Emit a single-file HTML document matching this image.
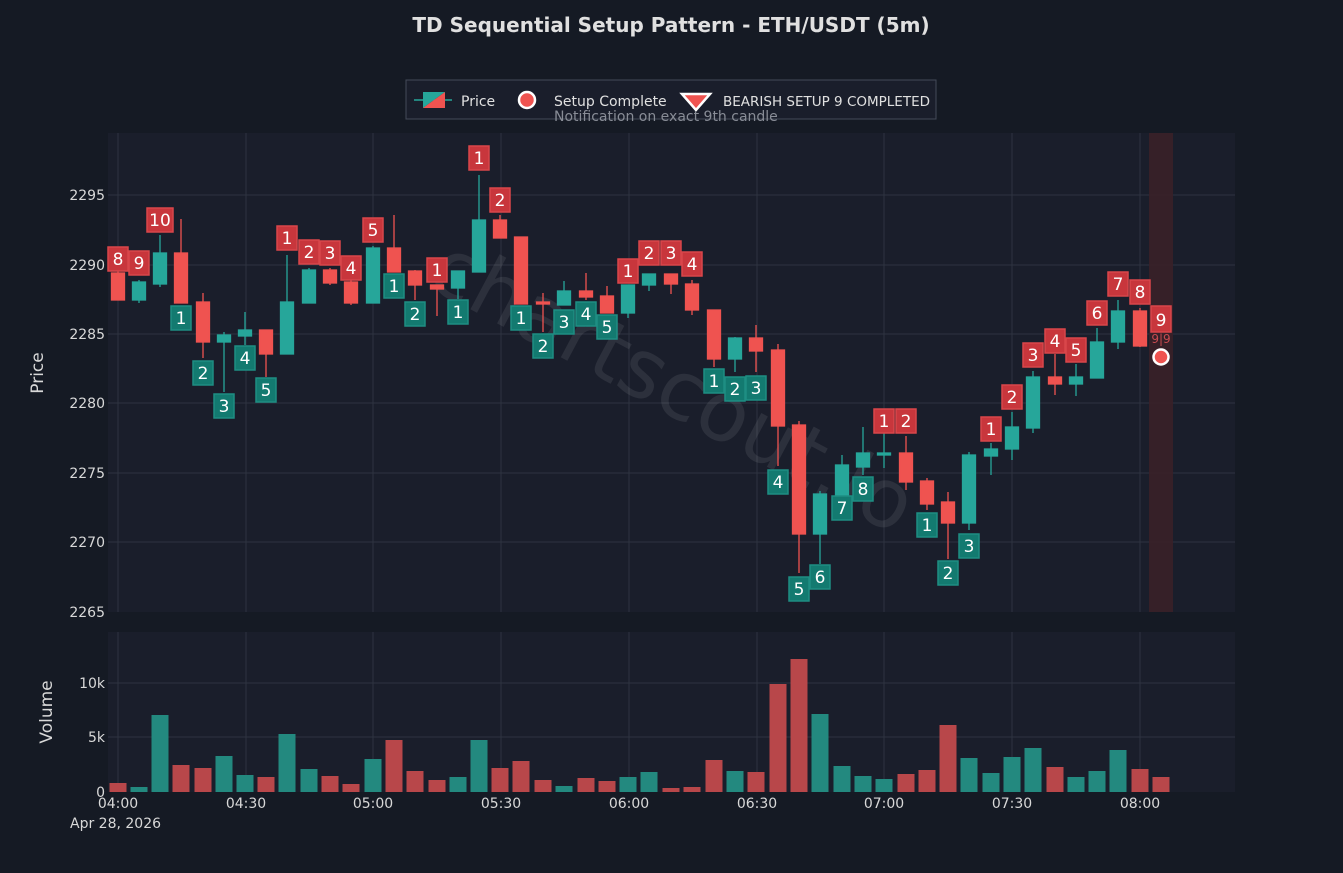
<!DOCTYPE html>
<html><head><meta charset="utf-8"><style>
body{margin:0;background:#151a24;}
svg{display:block;font-family:"DejaVu Sans","Liberation Sans",sans-serif;}
</style></head><body>
<svg width="1343" height="873" viewBox="0 0 1343 873" xmlns="http://www.w3.org/2000/svg">
<rect width="1343" height="873" fill="#151a24"/>
<text x="671" y="32" fill="#e0e0e0" font-size="20" font-weight="bold" text-anchor="middle" font-family="DejaVu Sans, sans-serif">TD Sequential Setup Pattern - ETH/USDT (5m)</text>
<rect x="108" y="133" width="1127" height="479" fill="#1a1e2b"/>
<rect x="108" y="632" width="1127" height="160" fill="#1a1e2b"/>
<g stroke="#2e3340" stroke-width="1">
<line x1="108" x2="1235" y1="195" y2="195"/><line x1="108" x2="1235" y1="265" y2="265"/><line x1="108" x2="1235" y1="334" y2="334"/><line x1="108" x2="1235" y1="403" y2="403"/><line x1="108" x2="1235" y1="473" y2="473"/><line x1="108" x2="1235" y1="542" y2="542"/>
<line x1="108" x2="1235" y1="683" y2="683"/><line x1="108" x2="1235" y1="737" y2="737"/>
<line x1="118" x2="118" y1="133" y2="612"/><line x1="246" x2="246" y1="133" y2="612"/><line x1="373" x2="373" y1="133" y2="612"/><line x1="501" x2="501" y1="133" y2="612"/><line x1="629" x2="629" y1="133" y2="612"/><line x1="757" x2="757" y1="133" y2="612"/><line x1="884" x2="884" y1="133" y2="612"/><line x1="1012" x2="1012" y1="133" y2="612"/><line x1="1140" x2="1140" y1="133" y2="612"/>
<line x1="118" x2="118" y1="632" y2="792"/><line x1="246" x2="246" y1="632" y2="792"/><line x1="373" x2="373" y1="632" y2="792"/><line x1="501" x2="501" y1="632" y2="792"/><line x1="629" x2="629" y1="632" y2="792"/><line x1="757" x2="757" y1="632" y2="792"/><line x1="884" x2="884" y1="632" y2="792"/><line x1="1012" x2="1012" y1="632" y2="792"/><line x1="1140" x2="1140" y1="632" y2="792"/>
</g>
<rect x="1149" y="133" width="24" height="479" fill="#3a2028" opacity="0.9"/>
<text x="0" y="0" transform="translate(660,410) rotate(28)" fill="#ffffff" opacity="0.08" font-size="82" text-anchor="middle" font-family="DejaVu Sans, sans-serif">chartscout.io</text>
<g fill="#d8d8d8" font-size="14" text-anchor="end">
<text x="105" y="200">2295</text><text x="105" y="270">2290</text><text x="105" y="339">2285</text><text x="105" y="408">2280</text><text x="105" y="478">2275</text><text x="105" y="547">2270</text><text x="105" y="617">2265</text>
<text x="105" y="688">10k</text><text x="105" y="742">5k</text><text x="105" y="797">0</text>
</g>
<g fill="#d8d8d8" font-size="14" text-anchor="middle">
<text x="118" y="808">04:00</text><text x="246" y="808">04:30</text><text x="373" y="808">05:00</text><text x="501" y="808">05:30</text><text x="629" y="808">06:00</text><text x="757" y="808">06:30</text><text x="884" y="808">07:00</text><text x="1012" y="808">07:30</text><text x="1140" y="808">08:00</text>
</g>
<text x="70" y="828" fill="#d8d8d8" font-size="14">Apr 28, 2026</text>
<text transform="translate(43,373) rotate(-90)" fill="#d8d8d8" font-size="17" text-anchor="middle">Price</text>
<text transform="translate(52,712) rotate(-90)" fill="#d8d8d8" font-size="17" text-anchor="middle">Volume</text>
<g stroke-width="1.3">
<g stroke="#ef5350" fill="#ef5350"><line x1="118" x2="118" y1="271" y2="300"/><rect x="111.5" y="273" width="13" height="27"/></g>
<g stroke="#26a69a" fill="#26a69a"><line x1="139" x2="139" y1="280" y2="303"/><rect x="132.5" y="282" width="13" height="18"/></g>
<g stroke="#26a69a" fill="#26a69a"><line x1="160" x2="160" y1="235" y2="287"/><rect x="153.5" y="253" width="13" height="31"/></g>
<g stroke="#ef5350" fill="#ef5350"><line x1="181" x2="181" y1="219" y2="303"/><rect x="174.5" y="253" width="13" height="50"/></g>
<g stroke="#ef5350" fill="#ef5350"><line x1="203" x2="203" y1="293" y2="358"/><rect x="196.5" y="302" width="13" height="40"/></g>
<g stroke="#26a69a" fill="#26a69a"><line x1="224" x2="224" y1="332" y2="392"/><rect x="217.5" y="335" width="13" height="7"/></g>
<g stroke="#26a69a" fill="#26a69a"><line x1="245" x2="245" y1="312" y2="345"/><rect x="238.5" y="330" width="13" height="6"/></g>
<g stroke="#ef5350" fill="#ef5350"><line x1="266" x2="266" y1="330" y2="377"/><rect x="259.5" y="330" width="13" height="24"/></g>
<g stroke="#26a69a" fill="#26a69a"><line x1="287" x2="287" y1="255" y2="354"/><rect x="280.5" y="302" width="13" height="52"/></g>
<g stroke="#26a69a" fill="#26a69a"><line x1="309" x2="309" y1="268" y2="303"/><rect x="302.5" y="270" width="13" height="33"/></g>
<g stroke="#ef5350" fill="#ef5350"><line x1="330" x2="330" y1="268" y2="285"/><rect x="323.5" y="270" width="13" height="13"/></g>
<g stroke="#ef5350" fill="#ef5350"><line x1="351" x2="351" y1="280" y2="305"/><rect x="344.5" y="282" width="13" height="21"/></g>
<g stroke="#26a69a" fill="#26a69a"><line x1="373" x2="373" y1="246" y2="303"/><rect x="366.5" y="248" width="13" height="55"/></g>
<g stroke="#ef5350" fill="#ef5350"><line x1="394" x2="394" y1="215" y2="272"/><rect x="387.5" y="248" width="13" height="24"/></g>
<g stroke="#ef5350" fill="#ef5350"><line x1="415" x2="415" y1="270" y2="300"/><rect x="408.5" y="271" width="13" height="14"/></g>
<g stroke="#ef5350" fill="#ef5350"><line x1="437" x2="437" y1="285" y2="316"/><rect x="430.5" y="285" width="13" height="4"/></g>
<g stroke="#26a69a" fill="#26a69a"><line x1="458" x2="458" y1="271" y2="299"/><rect x="451.5" y="271" width="13" height="17"/></g>
<g stroke="#26a69a" fill="#26a69a"><line x1="479" x2="479" y1="175" y2="272"/><rect x="472.5" y="220" width="13" height="52"/></g>
<g stroke="#ef5350" fill="#ef5350"><line x1="500" x2="500" y1="215" y2="238"/><rect x="493.5" y="220" width="13" height="18"/></g>
<g stroke="#ef5350" fill="#ef5350"><line x1="521" x2="521" y1="237" y2="304"/><rect x="514.5" y="237" width="13" height="67"/></g>
<g stroke="#ef5350" fill="#ef5350"><line x1="543" x2="543" y1="293" y2="332"/><rect x="536.5" y="302" width="13" height="2"/></g>
<g stroke="#26a69a" fill="#26a69a"><line x1="564" x2="564" y1="281" y2="305"/><rect x="557.5" y="291" width="13" height="14"/></g>
<g stroke="#ef5350" fill="#ef5350"><line x1="586" x2="586" y1="273" y2="300"/><rect x="579.5" y="291" width="13" height="6"/></g>
<g stroke="#ef5350" fill="#ef5350"><line x1="607" x2="607" y1="286" y2="313"/><rect x="600.5" y="296" width="13" height="17"/></g>
<g stroke="#26a69a" fill="#26a69a"><line x1="628" x2="628" y1="285" y2="318"/><rect x="621.5" y="285" width="13" height="28"/></g>
<g stroke="#26a69a" fill="#26a69a"><line x1="649" x2="649" y1="274" y2="291"/><rect x="642.5" y="274" width="13" height="11"/></g>
<g stroke="#ef5350" fill="#ef5350"><line x1="671" x2="671" y1="274" y2="294"/><rect x="664.5" y="274" width="13" height="10"/></g>
<g stroke="#ef5350" fill="#ef5350"><line x1="692" x2="692" y1="280" y2="315"/><rect x="685.5" y="284" width="13" height="26"/></g>
<g stroke="#ef5350" fill="#ef5350"><line x1="714" x2="714" y1="310" y2="367"/><rect x="707.5" y="310" width="13" height="49"/></g>
<g stroke="#26a69a" fill="#26a69a"><line x1="735" x2="735" y1="337" y2="372"/><rect x="728.5" y="338" width="13" height="21"/></g>
<g stroke="#ef5350" fill="#ef5350"><line x1="756" x2="756" y1="325" y2="372"/><rect x="749.5" y="338" width="13" height="13"/></g>
<g stroke="#ef5350" fill="#ef5350"><line x1="778" x2="778" y1="344" y2="466"/><rect x="771.5" y="350" width="13" height="76"/></g>
<g stroke="#ef5350" fill="#ef5350"><line x1="799" x2="799" y1="421" y2="573"/><rect x="792.5" y="425" width="13" height="109"/></g>
<g stroke="#26a69a" fill="#26a69a"><line x1="820" x2="820" y1="491" y2="564"/><rect x="813.5" y="494" width="13" height="40"/></g>
<g stroke="#26a69a" fill="#26a69a"><line x1="842" x2="842" y1="455" y2="496"/><rect x="835.5" y="465" width="13" height="31"/></g>
<g stroke="#26a69a" fill="#26a69a"><line x1="863" x2="863" y1="427" y2="475"/><rect x="856.5" y="453" width="13" height="14"/></g>
<g stroke="#26a69a" fill="#26a69a"><line x1="884" x2="884" y1="427" y2="468"/><rect x="877.5" y="453" width="13" height="2"/></g>
<g stroke="#ef5350" fill="#ef5350"><line x1="906" x2="906" y1="436" y2="490"/><rect x="899.5" y="453" width="13" height="29"/></g>
<g stroke="#ef5350" fill="#ef5350"><line x1="927" x2="927" y1="478" y2="510"/><rect x="920.5" y="481" width="13" height="23"/></g>
<g stroke="#ef5350" fill="#ef5350"><line x1="948" x2="948" y1="492" y2="559"/><rect x="941.5" y="502" width="13" height="21"/></g>
<g stroke="#26a69a" fill="#26a69a"><line x1="969" x2="969" y1="452" y2="530"/><rect x="962.5" y="455" width="13" height="68"/></g>
<g stroke="#26a69a" fill="#26a69a"><line x1="991" x2="991" y1="443" y2="475"/><rect x="984.5" y="449" width="13" height="7"/></g>
<g stroke="#26a69a" fill="#26a69a"><line x1="1012" x2="1012" y1="412" y2="460"/><rect x="1005.5" y="427" width="13" height="22"/></g>
<g stroke="#26a69a" fill="#26a69a"><line x1="1033" x2="1033" y1="371" y2="433"/><rect x="1026.5" y="377" width="13" height="51"/></g>
<g stroke="#ef5350" fill="#ef5350"><line x1="1055" x2="1055" y1="354" y2="395"/><rect x="1048.5" y="377" width="13" height="7"/></g>
<g stroke="#26a69a" fill="#26a69a"><line x1="1076" x2="1076" y1="364" y2="396"/><rect x="1069.5" y="377" width="13" height="7"/></g>
<g stroke="#26a69a" fill="#26a69a"><line x1="1097" x2="1097" y1="328" y2="378"/><rect x="1090.5" y="342" width="13" height="36"/></g>
<g stroke="#26a69a" fill="#26a69a"><line x1="1118" x2="1118" y1="300" y2="349"/><rect x="1111.5" y="311" width="13" height="31"/></g>
<g stroke="#ef5350" fill="#ef5350"><line x1="1140" x2="1140" y1="308" y2="347"/><rect x="1133.5" y="311" width="13" height="35"/></g>
</g>
<g stroke-width="1.5">
<g fill="#c8363c" stroke="#d9464b"><rect x="108" y="247" width="20" height="24"/><rect x="129" y="251" width="20" height="24"/><rect x="147" y="208" width="26" height="24"/><rect x="277" y="226" width="20" height="24"/><rect x="299" y="240" width="20" height="24"/><rect x="320" y="241" width="20" height="24"/><rect x="341" y="256" width="20" height="24"/><rect x="363" y="218" width="20" height="24"/><rect x="427" y="258" width="20" height="24"/><rect x="469" y="146" width="20" height="24"/><rect x="490" y="188" width="20" height="24"/><rect x="618" y="259" width="20" height="24"/><rect x="639" y="241" width="20" height="24"/><rect x="661" y="241" width="20" height="24"/><rect x="682" y="252" width="20" height="24"/><rect x="874" y="409" width="20" height="24"/><rect x="896" y="409" width="20" height="24"/><rect x="981" y="417" width="20" height="24"/><rect x="1002" y="385" width="20" height="24"/><rect x="1023" y="343" width="20" height="24"/><rect x="1045" y="329" width="20" height="24"/><rect x="1066" y="338" width="20" height="24"/><rect x="1087" y="301" width="20" height="24"/><rect x="1108" y="272" width="20" height="24"/><rect x="1130" y="280" width="20" height="24"/><rect x="1151" y="306" width="20" height="26"/></g>
<g fill="#137a70" stroke="#1e8e83"><rect x="171" y="306" width="20" height="24"/><rect x="193" y="361" width="20" height="24"/><rect x="214" y="394" width="20" height="24"/><rect x="235" y="346" width="20" height="24"/><rect x="256" y="378" width="20" height="24"/><rect x="384" y="274" width="20" height="24"/><rect x="405" y="302" width="20" height="24"/><rect x="448" y="300" width="20" height="24"/><rect x="511" y="306" width="20" height="24"/><rect x="533" y="334" width="20" height="24"/><rect x="554" y="310" width="20" height="24"/><rect x="576" y="302" width="20" height="24"/><rect x="597" y="315" width="20" height="24"/><rect x="704" y="369" width="20" height="24"/><rect x="725" y="377" width="20" height="24"/><rect x="746" y="376" width="20" height="24"/><rect x="768" y="470" width="20" height="24"/><rect x="789" y="577" width="20" height="24"/><rect x="810" y="565" width="20" height="24"/><rect x="832" y="496" width="20" height="24"/><rect x="853" y="477" width="20" height="24"/><rect x="917" y="513" width="20" height="24"/><rect x="938" y="561" width="20" height="24"/><rect x="959" y="534" width="20" height="24"/></g>
</g>
<g font-size="17" fill="#ffffff" text-anchor="middle">
<text x="118" y="265">8</text><text x="139" y="269">9</text><text x="160" y="226">10</text><text x="287" y="244">1</text><text x="309" y="258">2</text><text x="330" y="259">3</text><text x="351" y="274">4</text><text x="373" y="236">5</text><text x="437" y="276">1</text><text x="479" y="164">1</text><text x="500" y="206">2</text><text x="628" y="277">1</text><text x="649" y="259">2</text><text x="671" y="259">3</text><text x="692" y="270">4</text><text x="884" y="427">1</text><text x="906" y="427">2</text><text x="991" y="435">1</text><text x="1012" y="403">2</text><text x="1033" y="361">3</text><text x="1055" y="347">4</text><text x="1076" y="356">5</text><text x="1097" y="319">6</text><text x="1118" y="290">7</text><text x="1140" y="298">8</text><text x="1161" y="326">9</text>
<text x="181" y="324">1</text><text x="203" y="379">2</text><text x="224" y="412">3</text><text x="245" y="364">4</text><text x="266" y="396">5</text><text x="394" y="292">1</text><text x="415" y="320">2</text><text x="458" y="318">1</text><text x="521" y="324">1</text><text x="543" y="352">2</text><text x="564" y="328">3</text><text x="586" y="320">4</text><text x="607" y="333">5</text><text x="714" y="387">1</text><text x="735" y="395">2</text><text x="756" y="394">3</text><text x="778" y="488">4</text><text x="799" y="595">5</text><text x="820" y="583">6</text><text x="842" y="514">7</text><text x="863" y="495">8</text><text x="927" y="531">1</text><text x="948" y="579">2</text><text x="969" y="552">3</text>
</g>
<text x="1161" y="343" fill="#c84a50" font-size="12" text-anchor="middle">9|9</text>
<circle cx="1161" cy="357" r="7.5" fill="#ef5350" stroke="#ffffff" stroke-width="2.5"/>
<g>
<rect x="109.5" y="783" width="17" height="9" fill="#b8474a"/><rect x="130.5" y="787" width="17" height="5" fill="#23897f"/><rect x="151.5" y="715" width="17" height="77" fill="#23897f"/><rect x="172.5" y="765" width="17" height="27" fill="#b8474a"/><rect x="194.5" y="768" width="17" height="24" fill="#b8474a"/><rect x="215.5" y="756" width="17" height="36" fill="#23897f"/><rect x="236.5" y="775" width="17" height="17" fill="#23897f"/><rect x="257.5" y="777" width="17" height="15" fill="#b8474a"/><rect x="278.5" y="734" width="17" height="58" fill="#23897f"/><rect x="300.5" y="769" width="17" height="23" fill="#23897f"/><rect x="321.5" y="776" width="17" height="16" fill="#b8474a"/><rect x="342.5" y="784" width="17" height="8" fill="#b8474a"/><rect x="364.5" y="759" width="17" height="33" fill="#23897f"/><rect x="385.5" y="740" width="17" height="52" fill="#b8474a"/><rect x="406.5" y="771" width="17" height="21" fill="#b8474a"/><rect x="428.5" y="780" width="17" height="12" fill="#b8474a"/><rect x="449.5" y="777" width="17" height="15" fill="#23897f"/><rect x="470.5" y="740" width="17" height="52" fill="#23897f"/><rect x="491.5" y="768" width="17" height="24" fill="#b8474a"/><rect x="512.5" y="761" width="17" height="31" fill="#b8474a"/><rect x="534.5" y="780" width="17" height="12" fill="#b8474a"/><rect x="555.5" y="786" width="17" height="6" fill="#23897f"/><rect x="577.5" y="778" width="17" height="14" fill="#b8474a"/><rect x="598.5" y="781" width="17" height="11" fill="#b8474a"/><rect x="619.5" y="777" width="17" height="15" fill="#23897f"/><rect x="640.5" y="772" width="17" height="20" fill="#23897f"/><rect x="662.5" y="788" width="17" height="4" fill="#b8474a"/><rect x="683.5" y="787" width="17" height="5" fill="#b8474a"/><rect x="705.5" y="760" width="17" height="32" fill="#b8474a"/><rect x="726.5" y="771" width="17" height="21" fill="#23897f"/><rect x="747.5" y="772" width="17" height="20" fill="#b8474a"/><rect x="769.5" y="684" width="17" height="108" fill="#b8474a"/><rect x="790.5" y="659" width="17" height="133" fill="#b8474a"/><rect x="811.5" y="714" width="17" height="78" fill="#23897f"/><rect x="833.5" y="766" width="17" height="26" fill="#23897f"/><rect x="854.5" y="776" width="17" height="16" fill="#23897f"/><rect x="875.5" y="779" width="17" height="13" fill="#23897f"/><rect x="897.5" y="774" width="17" height="18" fill="#b8474a"/><rect x="918.5" y="770" width="17" height="22" fill="#b8474a"/><rect x="939.5" y="725" width="17" height="67" fill="#b8474a"/><rect x="960.5" y="758" width="17" height="34" fill="#23897f"/><rect x="982.5" y="773" width="17" height="19" fill="#23897f"/><rect x="1003.5" y="757" width="17" height="35" fill="#23897f"/><rect x="1024.5" y="748" width="17" height="44" fill="#23897f"/><rect x="1046.5" y="767" width="17" height="25" fill="#b8474a"/><rect x="1067.5" y="777" width="17" height="15" fill="#23897f"/><rect x="1088.5" y="771" width="17" height="21" fill="#23897f"/><rect x="1109.5" y="750" width="17" height="42" fill="#23897f"/><rect x="1131.5" y="769" width="17" height="23" fill="#b8474a"/><rect x="1152.5" y="777" width="17" height="15" fill="#b8474a"/>
</g>
<rect x="406" y="80" width="530" height="39" fill="#1a1e2b" stroke="#444a58" stroke-width="1"/>
<line x1="414" x2="452" y1="100" y2="100" stroke="#26a69a" stroke-width="1.5"/>
<polygon points="423,92 445,92 423,108" fill="#26a69a"/><polygon points="445,92 445,108 423,108" fill="#ef5350"/>
<text x="461" y="106" fill="#e0e0e0" font-size="14">Price</text>
<circle cx="527" cy="100" r="8" fill="#ef5350" stroke="#ffffff" stroke-width="2.5"/>
<text x="554" y="106" fill="#e0e0e0" font-size="14">Setup Complete</text>
<polygon points="682,94 710,94 696,110" fill="#ef5350" stroke="#ffffff" stroke-width="2.5"/>
<text x="723" y="106" fill="#e0e0e0" font-size="13.5">BEARISH SETUP 9 COMPLETED</text>
<text x="554" y="121" fill="#888c96" font-size="14">Notification on exact 9th candle</text>
</svg>
</body></html>
